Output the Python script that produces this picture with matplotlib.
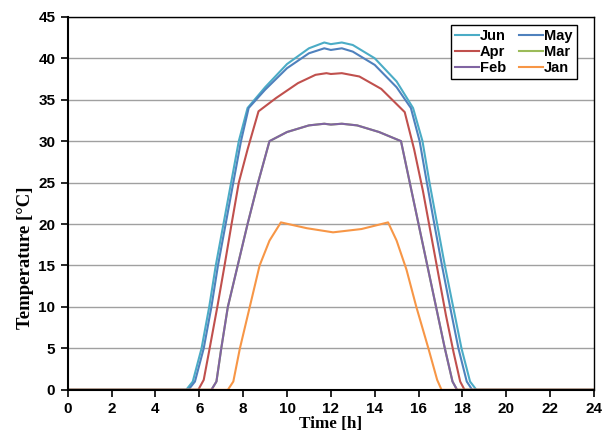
import numpy as np
from matplotlib import pyplot as plt

# 各月份的温度曲线 (时间 [h], 温度 [°C])
jun_t = [0, 5.4, 5.7, 6.1, 6.45, 6.75, 7.1, 7.45, 7.8, 8.2, 9, 10, 11, 11.7, 12, 12.5, 13,
         14, 15, 15.75, 16.18, 16.5, 16.85, 17.2, 17.58, 17.96, 18.35, 18.64, 24]
jun_v = [0, 0, 1, 5, 10, 15, 20, 25, 30, 34, 36.5, 39.3, 41.2, 41.9, 41.7, 41.9, 41.6,
         40, 37.2, 34, 30, 25, 20, 15, 10, 5, 1, 0, 0]

may_t = [0, 5.5, 5.8, 6.2, 6.55, 6.85, 7.2, 7.55, 7.9, 8.25, 9, 10, 11, 11.7, 12, 12.5, 13,
         14, 15, 15.65, 16.05, 16.38, 16.72, 17.07, 17.44, 17.82, 18.2, 18.45, 24]
may_v = [0, 0, 1, 5, 10, 15, 20, 25, 30, 34, 36.2, 38.8, 40.6, 41.2, 41, 41.2, 40.8,
         39.2, 36.5, 34, 30, 25, 20, 15, 10, 5, 1, 0, 0]

apr_t = [0, 5.95, 6.2, 6.47, 6.82, 7.15, 7.47, 7.8, 8.2, 8.7, 9.5, 10.5, 11.3, 11.8, 12,
         12.5, 13.3, 14.3, 15.37, 15.8, 16.2, 16.55, 16.9, 17.25, 17.6, 17.9, 18.1, 24]
apr_v = [0, 0, 1.2, 5, 10, 15, 20, 25, 29, 33.6, 35.2, 37, 38, 38.2, 38.1,
         38.2, 37.8, 36.3, 33.5, 29, 24, 19, 14, 9, 4.5, 1, 0, 0]

feb_t = [0, 6.55, 6.78, 7.0, 7.3, 7.75, 8.2, 8.68, 9.2, 10, 11, 11.7, 12, 12.5, 13.2, 14.2,
         15.2, 15.6, 16.0, 16.4, 16.8, 17.2, 17.55, 17.76, 24]
feb_v = [0, 0, 1, 5, 10, 15, 20, 25, 30, 31.1, 31.9, 32.1, 32, 32.1, 31.9, 31.1,
         30, 25, 20, 15, 10, 5, 1, 0, 0]

# 三月与二月重合
mar_t = feb_t
mar_v = feb_v

jan_t = [0, 7.3, 7.55, 7.85, 8.3, 8.75, 9.2, 9.72, 10.9, 12.1, 13.4, 14.61, 15.0, 15.45,
         15.9, 16.45, 16.85, 17.05, 24]
jan_v = [0, 0, 1, 5, 10, 15, 18, 20.2, 19.5, 19, 19.4, 20.2, 18, 14.5,
         10, 5, 1.2, 0, 0]

series = [
    ('Jun', jun_t, jun_v, '#4BACC6'),
    ('May', may_t, may_v, '#4F81BD'),
    ('Apr', apr_t, apr_v, '#C0504D'),
    ('Mar', mar_t, mar_v, '#9BBB59'),
    ('Feb', feb_t, feb_v, '#8064A2'),
    ('Jan', jan_t, jan_v, '#F79646'),
]

fig = plt.figure(figsize=(6.11, 4.42), dpi=100)
ax = fig.add_axes([0.111, 0.118, 0.861, 0.844])

lines = {}
for name, t, v, c in series:
    lines[name], = ax.plot(t, v, color=c, lw=1.5, label=name)

ax.set_xlim(0, 24)
ax.set_ylim(0, 45)
ax.set_xticks(np.arange(0, 25, 2))
ax.set_yticks(np.arange(0, 46, 5))
ax.yaxis.grid(True, color='#a0a0a0', lw=1.0)
ax.set_axisbelow(True)
for s in ax.spines.values():
    s.set_color('black')
    s.set_linewidth(1.0)
ax.spines['bottom'].set_linewidth(1.5)
ax.spines['left'].set_linewidth(1.5)
ax.tick_params(direction='out', length=5, width=1.2, color='black', pad=4)

for lab in ax.get_xticklabels() + ax.get_yticklabels():
    lab.set_fontfamily('Liberation Sans')
    lab.set_fontweight('bold')
    lab.set_fontsize(11)

ax.set_xlabel('Time [h]', family='Liberation Serif', fontweight='bold', fontsize=12.3, labelpad=0)
ax.set_ylabel('Temperature [°C]', family='Liberation Serif', fontweight='bold', fontsize=13.5)
ax.yaxis.set_label_coords(-0.064, 0.354)

# 图例按行排列: Jun May / Apr Mar / Feb Jan
order = ['Jun', 'Apr', 'Feb', 'May', 'Mar', 'Jan']
leg = ax.legend([lines[n] for n in order], order, ncol=2, loc='upper right',
                bbox_to_anchor=(0.968, 0.978),
                prop={'family': 'Liberation Sans', 'weight': 'bold', 'size': 10.5},
                frameon=True, fancybox=False, edgecolor='black', framealpha=1,
                handlelength=1.6, handletextpad=0.1, columnspacing=0.9,
                labelspacing=0.12, borderpad=0.3, borderaxespad=0)
leg.get_frame().set_linewidth(1.0)

fig.savefig('out.png', dpi=100)
